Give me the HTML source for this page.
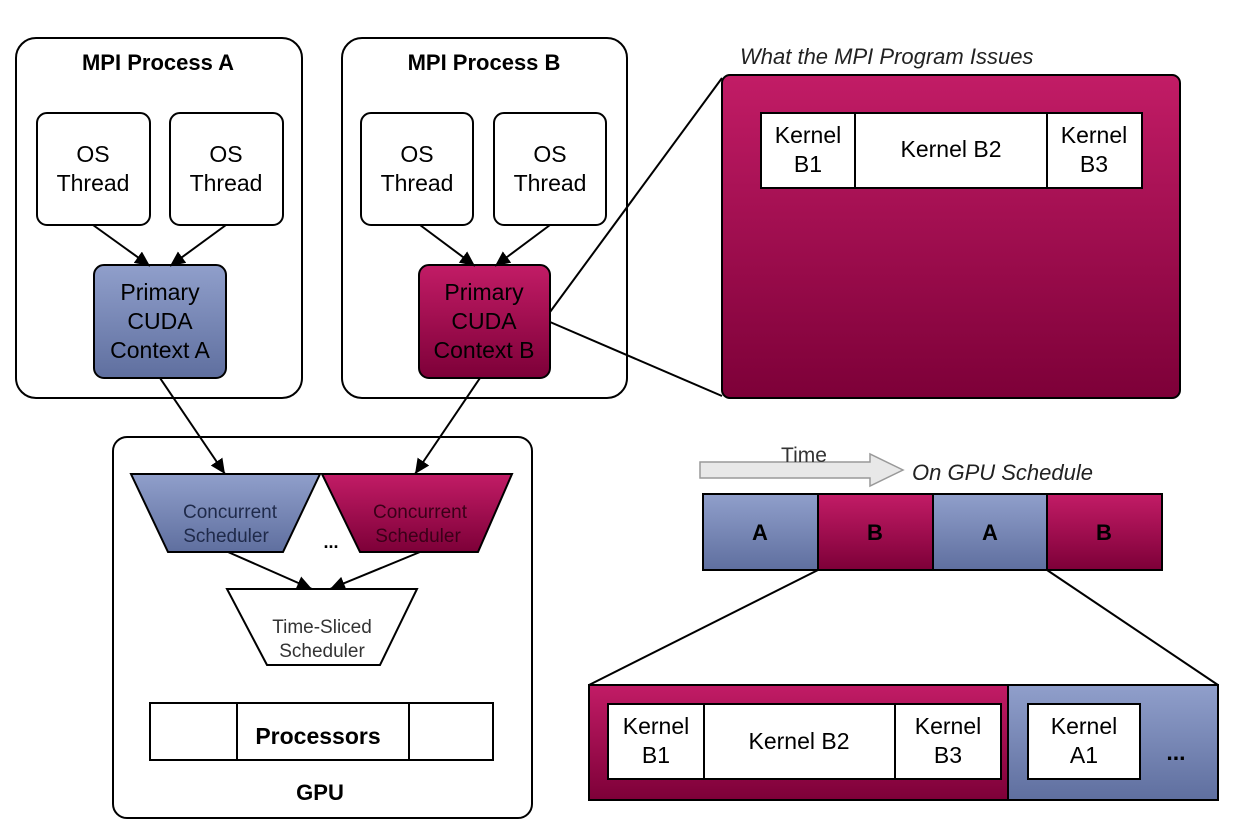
<!DOCTYPE html>
<html><head><meta charset="utf-8"><style>body{margin:0;background:#fff}svg{display:block}text{font-family:"Liberation Sans",sans-serif}</style></head><body>
<svg width="1243" height="840" viewBox="0 0 1243 840" xmlns="http://www.w3.org/2000/svg">
<defs>
<linearGradient id="bl" x1="0" y1="0" x2="0" y2="1"><stop offset="0" stop-color="#909fcb"/><stop offset="1" stop-color="#5f6f9f"/></linearGradient>
<linearGradient id="mg" x1="0" y1="0" x2="0" y2="1"><stop offset="0" stop-color="#c21c66"/><stop offset="1" stop-color="#7d0038"/></linearGradient>
<marker id="ar" markerWidth="16" markerHeight="16" refX="15" refY="7" orient="auto" markerUnits="userSpaceOnUse"><path d="M0,0 L15,7 L0,14 Z" fill="#000"/></marker>
</defs>
<g stroke="#000" stroke-width="2" fill="#fff">
<rect x="16" y="38" width="286" height="360" rx="20"/>
<rect x="342" y="38" width="285" height="360" rx="20"/>
<rect x="113" y="437" width="419" height="381" rx="14"/>
<rect x="37" y="113" width="113" height="112" rx="10"/>
<rect x="170" y="113" width="113" height="112" rx="10"/>
<rect x="361" y="113" width="112" height="112" rx="10"/>
<rect x="494" y="113" width="112" height="112" rx="10"/>
<rect x="94" y="265" width="132" height="113" rx="10" fill="url(#bl)"/>
<rect x="419" y="265" width="131" height="113" rx="10" fill="url(#mg)"/>
<rect x="722" y="75" width="458" height="323" rx="8" fill="url(#mg)"/>
<rect x="761" y="113" width="381" height="75"/>
<line x1="855" y1="113" x2="855" y2="188"/><line x1="1047" y1="113" x2="1047" y2="188"/>
<line x1="550" y1="312" x2="722" y2="78"/><line x1="550" y1="322" x2="722" y2="396"/>
<polygon points="131,474 320,474 283,552 168,552" fill="url(#bl)"/>
<polygon points="322,474 512,474 478,552 360,552" fill="url(#mg)"/>
<polygon points="227,589 417,589 380,665 267,665"/>
<rect x="150" y="703" width="343" height="57"/>
<line x1="237" y1="703" x2="237" y2="760"/><line x1="409" y1="703" x2="409" y2="760"/>
<rect x="703" y="494" width="115" height="76" fill="url(#bl)"/>
<rect x="818" y="494" width="115" height="76" fill="url(#mg)"/>
<rect x="933" y="494" width="114" height="76" fill="url(#bl)"/>
<rect x="1047" y="494" width="115" height="76" fill="url(#mg)"/>
<line x1="818" y1="570" x2="589" y2="685"/><line x1="1047" y1="570" x2="1218" y2="685"/>
<rect x="589" y="685" width="419" height="115" fill="url(#mg)"/>
<rect x="1008" y="685" width="210" height="115" fill="url(#bl)"/>
<rect x="608" y="704" width="393" height="75"/>
<line x1="704" y1="704" x2="704" y2="779"/><line x1="895" y1="704" x2="895" y2="779"/>
<rect x="1028" y="704" width="112" height="75"/>
</g>
<g stroke="#000" stroke-width="2" marker-end="url(#ar)">
<line x1="93" y1="225" x2="150" y2="266"/><line x1="226" y1="225" x2="170" y2="266"/>
<line x1="420" y1="225" x2="475" y2="266"/><line x1="550" y1="225" x2="495" y2="266"/>
<line x1="160" y1="378" x2="225" y2="474"/><line x1="480" y1="378" x2="415" y2="474"/>
<line x1="228" y1="552" x2="312" y2="589"/><line x1="420" y1="552" x2="330" y2="589"/>
</g>
<polygon points="700,462 870,462 870,454 903,470 870,486 870,478 700,478" fill="#e8e8e8" stroke="#999" stroke-width="1.5"/>
<g font-size="23" text-anchor="middle" fill="#000">
<text x="158" y="70" font-weight="bold" font-size="22">MPI Process A</text>
<text x="484" y="70" font-weight="bold" font-size="22">MPI Process B</text>
<text x="93" y="162">OS</text><text x="93" y="191">Thread</text>
<text x="226" y="162">OS</text><text x="226" y="191">Thread</text>
<text x="417" y="162">OS</text><text x="417" y="191">Thread</text>
<text x="550" y="162">OS</text><text x="550" y="191">Thread</text>
<text x="160" y="300">Primary</text><text x="160" y="329">CUDA</text><text x="160" y="358">Context A</text>
<text x="484" y="300">Primary</text><text x="484" y="329">CUDA</text><text x="484" y="358">Context B</text>
<text x="808" y="143">Kernel</text><text x="808" y="172">B1</text>
<text x="951" y="157">Kernel B2</text>
<text x="1094" y="143">Kernel</text><text x="1094" y="172">B3</text>
<g font-size="19" fill="#1f2a4a"><text x="230" y="518">Concurrent</text><text x="226" y="542">Scheduler</text></g>
<g font-size="19" fill="#3a0018"><text x="420" y="518">Concurrent</text><text x="418" y="542">Scheduler</text></g>
<text x="331" y="548" font-size="18" font-weight="bold">...</text>
<g font-size="19" fill="#333"><text x="322" y="633">Time-Sliced</text><text x="322" y="657">Scheduler</text></g>
<text x="318" y="744" font-weight="bold">Processors</text>
<text x="320" y="800" font-weight="bold" font-size="22">GPU</text>
<text x="804" y="462" font-size="21" fill="#333">Time</text>
<g font-weight="bold" font-size="22"><text x="760" y="540">A</text><text x="875" y="540">B</text><text x="990" y="540">A</text><text x="1104" y="540">B</text></g>
<text x="656" y="734">Kernel</text><text x="656" y="763">B1</text>
<text x="799" y="749">Kernel B2</text>
<text x="948" y="734">Kernel</text><text x="948" y="763">B3</text>
<text x="1084" y="734">Kernel</text><text x="1084" y="763">A1</text>
<text x="1176" y="760" font-weight="bold">...</text>
</g>
<g font-size="22" font-style="italic" fill="#222">
<text x="740" y="64">What the MPI Program Issues</text>
<text x="912" y="480">On GPU Schedule</text>
</g>
</svg>
</body></html>
